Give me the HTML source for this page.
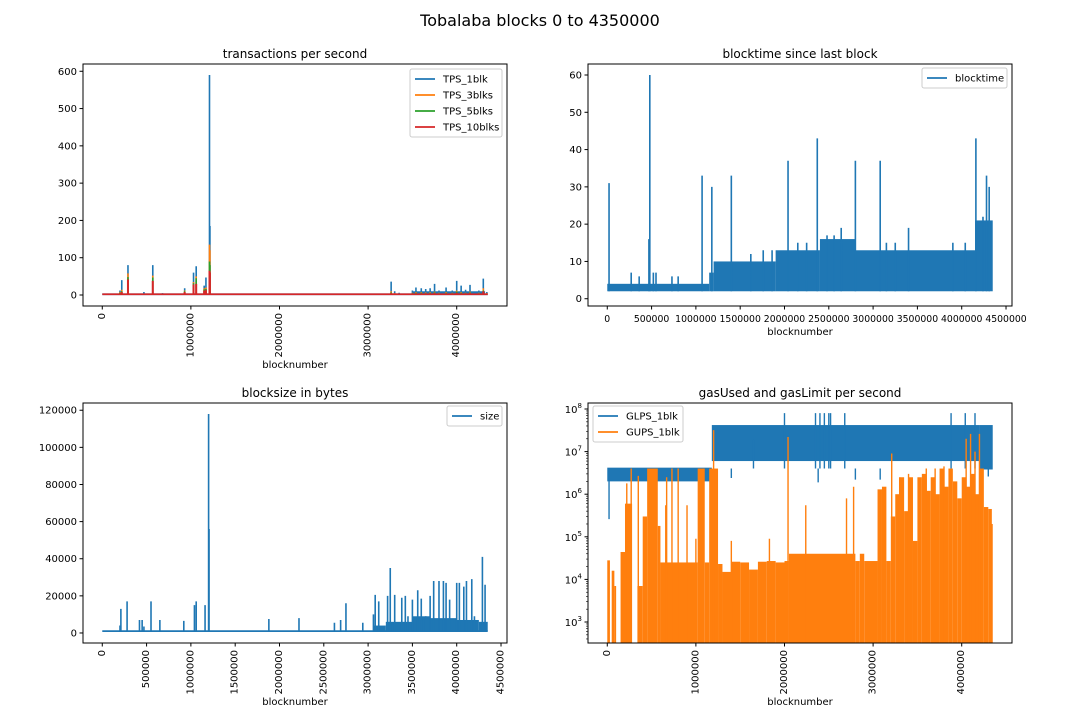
<!DOCTYPE html>
<html><head><meta charset="utf-8"><style>
html,body{margin:0;padding:0;background:#fff;}
svg text{font-family:"DejaVu Sans","Liberation Sans",sans-serif;fill:#000;}
</style></head><body>
<svg id="fig" width="1080" height="720" viewBox="0 0 1080 720" xmlns="http://www.w3.org/2000/svg">
<rect width="1080" height="720" fill="#fff"/>
<text x="540" y="26" font-size="16" text-anchor="middle">Tobalaba blocks 0 to 4350000</text>
</svg>
<script>
// ---------- DATA ----------
// TPS chart
const tpsBlocks = [200000,220000,290000,470000,570000,680000,930000,1030000,1060000,1150000,1170000,1210000,1215000,3260000,3300000,3350000,3500000,3540000,3600000,3650000,3700000,3750000,3800000,3880000,3950000,4000000,4050000,4100000,4150000,4250000,4300000,4340000];
const tps1  = [12,40,80,8,80,5,18,60,77,25,47,590,185,36,10,6,12,20,18,16,18,30,12,20,12,38,25,14,27,12,44,8];
const tps3  = [8,14,58,4,52,3,12,35,50,18,20,135,120,10,5,4,6,8,8,7,8,9,6,8,6,12,8,6,9,6,18,5];
const tps5  = [6,10,48,3,47,3,10,32,45,15,16,90,80,7,4,3,5,6,6,5,6,7,5,6,5,9,6,5,7,5,12,4];
const tps10 = [4,8,42,2,38,2,8,28,30,12,13,65,60,5,3,2,4,4,4,4,4,5,4,4,4,6,4,4,5,4,10,3];
const tpsBase = 2;
const tpsBandBlocks = [3500000,4320000];
const tpsBandMax = [10];

// blocktime chart
const btBandBlocks = [0,1150000,1200000,1900000,2400000,2800000,4150000,4350000];
const btBandMax = [4,7,10,13,16,13,21];
const btBandMin = [2,2,2,2,2,2,2];
const btSpikeBlocks = [20000,270000,360000,470000,480000,520000,550000,730000,800000,1070000,1180000,1400000,1620000,1760000,1860000,2040000,2150000,2250000,2370000,2480000,2560000,2640000,2800000,3080000,3150000,3250000,3400000,3900000,4040000,4160000,4240000,4280000,4310000];
const btSpikeVals = [31,7,6,16,60,7,7,6,6,33,30,33,12,13,13,37,15,15,43,17,17,19,37,37,15,15,19,15,15,43,22,33,30];

// blocksize chart
const sizeBase = 1000;
const sizeBlocks = [200000,210000,280000,420000,450000,470000,550000,650000,920000,1040000,1060000,1160000,1200000,1205000,1880000,2220000,2620000,2690000,2750000,2940000,3060000,3080000,3120000,3220000,3250000,3300000,3380000,3420000,3450000,3500000,3560000,3600000,3650000,3700000,3740000,3800000,3850000,3880000,3920000,4000000,4030000,4080000,4110000,4170000,4200000,4290000,4320000];
const sizeVals = [4000,13000,17000,7000,7000,3500,17000,7000,6500,15000,17000,15000,118000,56000,7500,8000,5500,7000,16000,5500,10000,20500,17000,20000,35000,20500,19000,20000,9000,18000,23000,18500,9000,20000,28000,28000,28000,27000,18000,27000,27000,25000,28000,29000,9000,41000,26000];
const sizeBandBlocks = [3060000,3200000,3500000,3700000,4000000,4250000,4350000];
const sizeBandMax = [4000,6000,9000,8000,7000,6000];

// gas chart
const glBandBlocks = [0,1180000,4200000,4350000];
const glBandMax = [4.2e6,4.2e7,4.2e7];
const glBandMin = [2e6,6e6,3.8e6];
const glSpikeBlocks = [20000,1400000,1650000,2000000,2350000,2380000,2400000,2450000,2500000,2520000,2680000,2800000,3080000,3880000,4040000,4150000,4300000];
const glSpikeVals = [2.6e5,2.4e6,1.9e7,8e7,8e7,1.9e6,8e7,8e7,8e7,8e7,8e7,2.2e6,2.2e6,8e7,8e7,8e7,2.6e6];
const guBinBlocks = [0,30000,50000,80000,100000,150000,200000,280000,340000,400000,450000,570000,600000,1020000,1100000,1150000,1250000,1300000,1400000,1500000,1600000,1700000,1800000,1900000,2000000,2050000,2800000,2850000,2900000,3050000,3100000,3150000,3200000,3250000,3300000,3350000,3400000,3450000,3500000,3550000,3600000,3650000,3700000,3750000,3800000,3850000,3900000,3950000,4000000,4050000,4100000,4150000,4200000,4250000,4300000,4340000,4350000];
const guBinVals = [2.8e4,0,1.6e4,7e3,0,4.4e4,6e5,0,7e3,3e5,4e6,1.8e5,2.5e4,4e6,2.5e4,4e6,2.3e4,1.5e4,2.6e4,2.5e4,1.7e4,2.6e4,2.7e4,2.5e4,2.7e4,4e4,2.7e4,4e4,2.7e4,1.3e6,1.5e6,2.7e4,3e5,1e6,2.5e6,4e5,2.5e6,8e4,2.5e6,3e6,1.2e6,2.5e6,1e6,4e6,1.5e6,4e6,2e6,8e5,2.5e6,1.5e6,3e6,1e6,4e6,5e5,4.5e5,2e5];
const guSpikeBlocks = [220000,270000,350000,660000,670000,730000,800000,900000,1000000,1200000,1400000,1830000,2040000,2240000,2700000,2780000,3210000,3300000,3400000,3600000,3700000,3800000,4050000,4100000,4150000,4200000,4340000];
const guSpikeVals = [1.8e6,4e6,2.7e6,5.5e5,2.5e6,4e6,4e6,5.5e5,9e4,3.2e7,8e4,9e4,2.2e7,5.5e5,8e5,1.5e6,9e6,2.5e6,3e6,4e6,4e6,4.5e6,2e7,2.6e7,1e7,2.6e7,2e5];

const xTicks1 = [0,1000000,2000000,3000000,4000000];
const xTicksHalf = [0,500000,1000000,1500000,2000000,2500000,3000000,3500000,4000000,4500000];
const tpsYTicks = [0,100,200,300,400,500,600];
const btYTicks = [0,10,20,30,40,50,60];
const sizeYTicks = [0,20000,40000,60000,80000,100000,120000];
const gasYExp = [3,4,5,6,7,8];

// ---------- DRAW ----------
const NS="http://www.w3.org/2000/svg";
const svg=document.getElementById('fig');
const C={b:'#1f77b4',o:'#ff7f0e',g:'#2ca02c',r:'#d62728'};
function el(tag,attrs,parent){const e=document.createElementNS(NS,tag);for(const k in attrs)e.setAttribute(k,attrs[k]);(parent||svg).appendChild(e);return e;}
const XMIN=-217500,XMAX=4567500;
let clipN=0;
function makeAx(name,L,T,W,H,ymin,ymax,log){
  const g=el('g',{});
  
  
  const x=v=>L+(v-XMIN)/(XMAX-XMIN)*W;
  const y=log? v=>{const lv=Math.log10(Math.max(v,1e-3));return T+H-(lv-ymin)/(ymax-ymin)*H;} : v=>T+H-(v-ymin)/(ymax-ymin)*H;
  const id='clip'+(clipN++);
  const cp=el('clipPath',{id:id},g);el('rect',{x:L,y:T,width:W,height:H},cp);
  const plot=el('g',{'clip-path':'url(#'+id+')'},g);
  
  
  return {g,plot,x,y,L,T,W,H};
}
function frame(ax){const r=el('rect',{x:ax.L,y:ax.T,width:ax.W,height:ax.H,fill:'none',stroke:'#000','stroke-width':1},ax.g);
  }
function spikes(ax,blocks,vals,base,color,name,w){
  let d='';blocks.forEach((b,i)=>{const xx=ax.x(b);d+='M'+xx+','+ax.y(base)+'V'+ax.y(vals[i]);});
  const p=el('path',{d:d,stroke:color,'stroke-width':w||1.6,fill:'none'},ax.plot);
  
}
function band(ax,blocks,maxs,mins,color,name,minConst){
  const g=el('g',{},ax.plot);
  
  for(let i=0;i<blocks.length-1;i++){
    const lo=mins?mins[i]:minConst;
    if(maxs[i]<=0)continue;
    const x0=ax.x(blocks[i]),x1=ax.x(blocks[i+1]);
    const yt=ax.y(maxs[i]),yb=(lo===null)?ax.T+ax.H+2:ax.y(lo);
    const r=el('rect',{x:x0,y:yt,width:Math.max(x1-x0,0.5),height:Math.max(yb-yt,0.5),fill:color},g);
    
  }
}
function baseline(ax,v,color,name){const l=el('line',{x1:ax.x(0),x2:ax.x(4350000),y1:ax.y(v),y2:ax.y(v),stroke:color,'stroke-width':1.8},ax.plot);
  }
function xticks(ax,ticks,rot,fs){
  ticks.forEach(t=>{const xx=ax.x(t);const by=ax.T+ax.H;
    const l=el('line',{x1:xx,x2:xx,y1:by,y2:by+3.5,stroke:'#000'},ax.g);
    
    let tx;
    if(rot){tx=el('text',{x:0,y:0,'font-size':10,'text-anchor':'end','dominant-baseline':'central',transform:'translate('+xx+','+(by+7)+') rotate(-90)'},ax.g);}
    else{tx=el('text',{x:xx,y:by+16,'font-size':fs||10,'text-anchor':'middle'},ax.g);}
    tx.textContent=String(t);
    
  });
}
function yticks(ax,ticks){
  ticks.forEach(t=>{const yy=ax.y(t);
    const l=el('line',{x1:ax.L-3.5,x2:ax.L,y1:yy,y2:yy,stroke:'#000'},ax.g);
    
    const tx=el('text',{x:ax.L-6,y:yy+3.5,'font-size':10,'text-anchor':'end'},ax.g);tx.textContent=String(t);
    
  });
}
function title(ax,s){const t=el('text',{x:ax.L+ax.W/2,y:ax.T-6,'font-size':12,'text-anchor':'middle'},ax.g);t.textContent=s;
  }
function xlabel(ax,yy){const t=el('text',{x:ax.L+ax.W/2,y:yy,'font-size':10,'text-anchor':'middle'},ax.g);t.textContent='blocknumber';
  }
function legend(ax,bx,by,bw,entries){
  const g=el('g',{},ax.g);
  el('rect',{x:bx,y:by,width:bw,height:entries.length*16+4,rx:2,fill:'#fff','fill-opacity':0.8,stroke:'#ccc'},g);
  entries.forEach((e,i)=>{const yy=by+10+i*16;
    const l=el('line',{x1:bx+5,x2:bx+25,y1:yy,y2:yy,stroke:e[1],'stroke-width':1.8},g);
    
    const t=el('text',{x:bx+33,y:yy+3.5,'font-size':10},g);t.textContent=e[0];
    });
}

// Chart 1
const a1=makeAx('tps-chart',83,64,424,242,-29.5,619.5,false);
baseline(a1,tpsBase,C.b,'tps-1blk-line');
band(a1,tpsBandBlocks,tpsBandMax,null,C.b,'tps-1blk-band',tpsBase);
spikes(a1,tpsBlocks,tps1,tpsBase,C.b,'tps-1blk-series');
spikes(a1,tpsBlocks,tps3,tpsBase,C.o,'tps-3blks-series');
spikes(a1,tpsBlocks,tps5,tpsBase,C.g,'tps-5blks-series');
spikes(a1,tpsBlocks,tps10,tpsBase,C.r,'tps-10blks-series',2);
baseline(a1,tpsBase,C.r,'tps-10blks-line');
frame(a1);xticks(a1,xTicks1,true);yticks(a1,tpsYTicks);title(a1,'transactions per second');xlabel(a1,368);
legend(a1,410,69,92,[['TPS_1blk',C.b],['TPS_3blks',C.o],['TPS_5blks',C.g],['TPS_10blks',C.r]]);

// Chart 2
const a2=makeAx('blocktime-chart',588,64,424,242,-1.95,62.95,false);
band(a2,btBandBlocks,btBandMax,btBandMin,C.b,'blocktime-band');
spikes(a2,btSpikeBlocks,btSpikeVals,2,C.b,'blocktime-spikes');
frame(a2);xticks(a2,xTicksHalf,false,9.3);yticks(a2,btYTicks);title(a2,'blocktime since last block');xlabel(a2,335);
legend(a2,922,68,85,[['blocktime',C.b]]);

// Chart 3
const a3=makeAx('blocksize-chart',83,403,424,240,-5400,123900,false);
baseline(a3,sizeBase,C.b,'size-baseline');
band(a3,sizeBandBlocks,sizeBandMax,null,C.b,'size-band',sizeBase);
spikes(a3,sizeBlocks,sizeVals,sizeBase,C.b,'size-spikes');
frame(a3);xticks(a3,xTicksHalf,true);yticks(a3,sizeYTicks);title(a3,'blocksize in bytes');xlabel(a3,705);
legend(a3,447,406,55,[['size',C.b]]);

// Chart 4
const a4=makeAx('gas-chart',588,403,424,240,2.507,8.141,true);
band(a4,glBandBlocks,glBandMax,glBandMin,C.b,'glps-band');
spikes(a4,glSpikeBlocks,glSpikeVals,4e6,C.b,'glps-spikes',1.4);
band(a4,guBinBlocks,guBinVals,null,C.o,'gups-area',null);
spikes(a4,guSpikeBlocks,guSpikeVals,1,C.o,'gups-spikes',1.4);
frame(a4);xticks(a4,xTicks1,true);
gasYExp.forEach(e=>{const yy=a4.y(Math.pow(10,e));
  const l=el('line',{x1:a4.L-3.5,x2:a4.L,y1:yy,y2:yy,stroke:'#000'},a4.g);
  
  const t=el('text',{x:a4.L-6,y:yy+4,'font-size':10,'text-anchor':'end'},a4.g);
  
  const s1=el('tspan',{},t);s1.textContent='10';
  const s2=el('tspan',{dy:-5,'font-size':7},t);s2.textContent=String(e);
});
for(let e=2;e<=8;e++){for(let m=2;m<=9;m++){const v=m*Math.pow(10,e);const lv=Math.log10(v);if(lv<2.507||lv>8.141)continue;
  const yy=a4.y(v);const l=el('line',{x1:a4.L-2,x2:a4.L,y1:yy,y2:yy,stroke:'#000','stroke-width':0.6},a4.g);
  }}
title(a4,'gasUsed and gasLimit per second');xlabel(a4,705);
legend(a4,593,406,90,[['GLPS_1blk',C.b],['GUPS_1blk',C.o]]);
</script>
</body></html>
